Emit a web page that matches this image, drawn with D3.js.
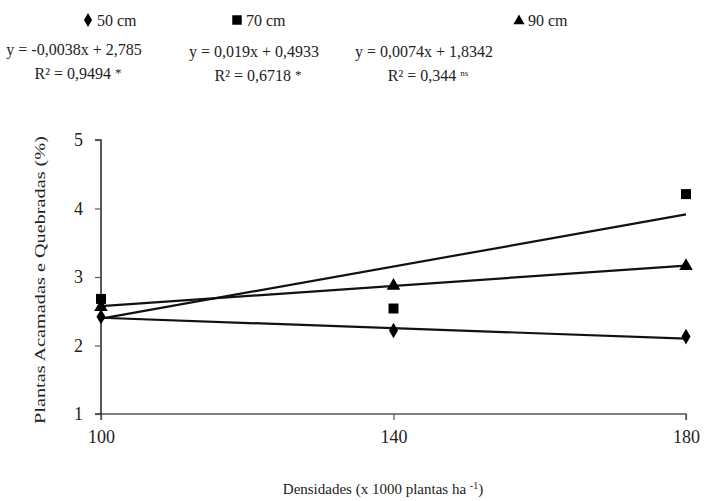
<!DOCTYPE html>
<html><head><meta charset="utf-8">
<script src="https://cdnjs.cloudflare.com/ajax/libs/d3/7.8.5/d3.min.js"></script>
<style>body{margin:0;background:#fff}svg{display:block}</style>
</head><body><svg id="c" width="704" height="501"></svg>
<script>
const densities = [100, 140, 180];
const seriesNames = ["50 cm", "70 cm", "90 cm"];
const values50 = [2.42, 2.22, 2.13];
const values70 = [2.68, 2.54, 4.21];
const values90 = [2.56, 2.87, 3.16];
const slopes = [-0.0038, 0.019, 0.0074];
const intercepts = [2.785, 0.4933, 1.8342];
const equations = ["y = -0,0038x + 2,785", "y = 0,019x + 0,4933", "y = 0,0074x + 1,8342"];
const r2Labels = ["R² = 0,9494", "R² = 0,6718", "R² = 0,344"];
const r2Marks = ["*", "*", "ns"];
const xTicks = [100, 140, 180];
const yTicks = [1, 2, 3, 4, 5];

const FONT = "Liberation Serif";
const svg = d3.select("#c");
const x = d3.scaleLinear().domain([100, 180]).range([101, 686]);
const y = d3.scaleLinear().domain([1, 5]).range([414, 140]);

// Axes
const xAxis = d3.axisBottom(x).tickValues(xTicks).tickFormat(d3.format("d")).tickSize(6).tickPadding(10);
const gx = svg.append("g").attr("transform", "translate(0,414)").call(xAxis);
gx.attr("font-family", FONT);
gx.select(".domain").attr("stroke", "#555").attr("stroke-width", 1.5).attr("d", "M101,6V0H686V6");
gx.selectAll(".tick line").attr("stroke", "#555").attr("stroke-width", 1.2);
gx.selectAll(".tick text").attr("font-family", FONT).attr("font-size", 18).attr("fill", "#222");

const yAxis = d3.axisLeft(y).tickValues(yTicks).tickFormat(d3.format("d")).tickSize(6).tickPadding(12);
const gy = svg.append("g").attr("transform", "translate(101,0)").call(yAxis);
gy.attr("font-family", FONT);
gy.select(".domain").attr("stroke", "#222").attr("stroke-width", 1.5).attr("d", "M-6,140H0V414H-6");
gy.selectAll(".tick line").attr("stroke", "#555").attr("stroke-width", 1.2);
gy.selectAll(".tick text").attr("font-family", FONT).attr("font-size", 18).attr("fill", "#222");

// Axis titles
svg.append("text").attr("transform", "translate(45,280) rotate(-90)").attr("text-anchor", "middle")
  .attr("font-family", FONT).attr("font-size", 15).attr("fill", "#222")
  .attr("textLength", 288).attr("lengthAdjust", "spacingAndGlyphs")
  .text("Plantas Acamadas e Quebradas (%)");
const xt = svg.append("text").attr("x", 383).attr("y", 494).attr("text-anchor", "middle")
  .attr("font-family", FONT).attr("font-size", 15).attr("fill", "#222");
xt.append("tspan").text("Densidades (x 1000 plantas ha ");
xt.append("tspan").attr("dy", -5).attr("font-size", 10).text("-1");
xt.append("tspan").attr("dy", 5).text(")");

// Regression lines
slopes.forEach((s, i) => {
  svg.append("line")
    .attr("x1", x(100)).attr("x2", x(180))
    .attr("y1", y(s * 100 + intercepts[i])).attr("y2", y(s * 180 + intercepts[i]))
    .attr("stroke", "#111").attr("stroke-width", 2.2);
});

const allValues = [values50, values70, values90];
const symbols = [d3.symbolDiamond, d3.symbolSquare, d3.symbolTriangle];
const sizes = [70, 100, 80];
allValues.forEach((vals, i) => {
  svg.append("g").selectAll("path").data(vals).join("path")
    .attr("transform", (d, j) => `translate(${x(densities[j])},${y(d)})`)
    .attr("d", d3.symbol().type(symbols[i]).size(sizes[i]))
    .attr("fill", "#000");
});

// Legend
const legX = [88, 237, 519];
seriesNames.forEach((n, i) => {
  svg.append("path").attr("transform", `translate(${legX[i]},${i === 2 ? 21 : 20})`)
    .attr("d", d3.symbol().type(symbols[i]).size(i === 1 ? 90 : 55)).attr("fill", "#000");
  svg.append("text").attr("x", legX[i] + 9).attr("y", 26).attr("font-family", FONT).attr("font-size", 16).attr("fill", "#222").text(n);
});

// Equations
const eqX = [74, 254, 424];
const eqY = [55, 57, 57];
equations.forEach((e, i) => {
  svg.append("text").attr("x", eqX[i]).attr("y", eqY[i]).attr("text-anchor", "middle")
    .attr("font-family", FONT).attr("font-size", 16).attr("fill", "#222").text(e);
  const t = svg.append("text").attr("x", eqX[i] + 4).attr("y", eqY[i] + 24).attr("text-anchor", "middle")
    .attr("font-family", FONT).attr("font-size", 16).attr("fill", "#222");
  t.append("tspan").text(r2Labels[i] + " ");
  t.append("tspan").attr("dy", r2Marks[i] === "ns" ? -5 : -2).attr("font-size", r2Marks[i] === "ns" ? 9 : 13).text(r2Marks[i]);
});
</script></body></html>
